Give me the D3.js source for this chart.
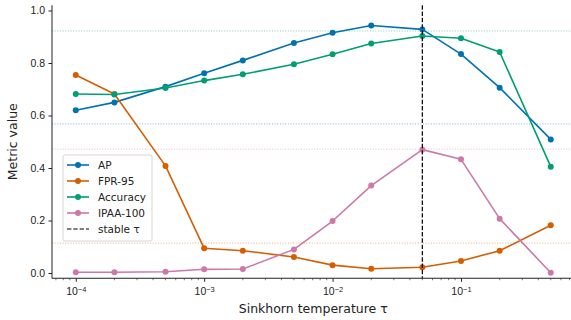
<!DOCTYPE html>
<html>
<head>
<meta charset="utf-8">
<script src="https://cdn.jsdelivr.net/npm/d3@7"></script>
<style>
  body { margin: 0; background: #fff; }
  svg { display: block; font-family: "DejaVu Sans", sans-serif; }
</style>
</head>
<body>
<div id="chart"></div>
<script>
// sinkhorn temperatures swept
var taus = [1e-4, 2e-4, 5e-4, 1e-3, 2e-3, 5e-3, 1e-2, 2e-2, 5e-2, 1e-1, 2e-1, 5e-1];

var apVals   = [0.620, 0.650, 0.710, 0.761, 0.810, 0.876, 0.915, 0.943, 0.928, 0.834, 0.706, 0.509];
var fprVals  = [0.754, 0.682, 0.408, 0.094, 0.085, 0.061, 0.030, 0.016, 0.022, 0.046, 0.085, 0.182];
var accVals  = [0.682, 0.680, 0.705, 0.733, 0.757, 0.795, 0.833, 0.874, 0.903, 0.894, 0.842, 0.405];
var ipaaVals = [0.003, 0.003, 0.005, 0.014, 0.015, 0.090, 0.198, 0.333, 0.470, 0.433, 0.207, 0.001];

var seriesNames = ["AP", "FPR-95", "Accuracy", "IPAA-100"];
var seriesColors = ["#0072B2", "#D55E00", "#009E73", "#CC79A7"];

// dotted reference levels (one per metric)
var refNames  = ["Accuracy", "AP", "IPAA-100", "FPR-95"];
var refValues = [0.922, 0.568, 0.472, 0.114];

var stableTau = 5e-2;

var yTicks = [0.0, 0.2, 0.4, 0.6, 0.8, 1.0];
var xTicks = [1e-4, 1e-3, 1e-2, 1e-1];

var W = 571, H = 320;
var mLeft = 52, mRight = 574.5, mTop = 5.25, mBottom = 278.25;

var svg = d3.select("#chart").append("svg")
  .attr("width", W)
  .attr("height", H);

var x = d3.scaleLog()
  .domain([Math.pow(10, -4.185), Math.pow(10, -0.116)])
  .range([mLeft, mRight]);

var y = d3.scaleLinear()
  .domain([-0.02, 1.02])
  .range([mBottom, mTop]);

var colorOf = d3.scaleOrdinal().domain(seriesNames).range(seriesColors);

// reference dotted lines
svg.selectAll("line.ref")
  .data(refNames)
  .enter().append("line")
  .attr("class", "ref")
  .attr("x1", mLeft)
  .attr("x2", W)
  .attr("y1", function(d, i) { return y(refValues[i]); })
  .attr("y2", function(d, i) { return y(refValues[i]); })
  .attr("stroke", function(d) { return colorOf(d); })
  .attr("stroke-opacity", 0.5)
  .attr("stroke-width", 1)
  .attr("stroke-dasharray", "1,1.65");

var series = [apVals, fprVals, accVals, ipaaVals].map(function(vals, i) {
  return { name: seriesNames[i], values: vals.map(function(v, j) { return { t: taus[j], v: v }; }) };
});

var line = d3.line()
  .x(function(d) { return x(d.t); })
  .y(function(d) { return y(d.v); });

var g = svg.selectAll("g.series")
  .data(series)
  .enter().append("g")
  .attr("class", "series");

g.append("path")
  .attr("d", function(d) { return line(d.values); })
  .attr("fill", "none")
  .attr("stroke", function(d) { return colorOf(d.name); })
  .attr("stroke-width", 1.6)
  .attr("stroke-linejoin", "round");

g.selectAll("circle")
  .data(function(d) { return d.values.map(function(p) { return { p: p, name: d.name }; }); })
  .enter().append("circle")
  .attr("cx", function(d) { return x(d.p.t); })
  .attr("cy", function(d) { return y(d.p.v); })
  .attr("r", 3)
  .attr("fill", function(d) { return colorOf(d.name); });

// stable tau
svg.append("line")
  .attr("x1", x(stableTau))
  .attr("x2", x(stableTau))
  .attr("y1", mTop)
  .attr("y2", mBottom)
  .attr("stroke", "#000")
  .attr("stroke-width", 1.2)
  .attr("stroke-dasharray", "4.4,1.9");

// axes
var yAxis = d3.axisLeft(y)
  .tickValues(yTicks)
  .tickFormat(d3.format(".1f"))
  .tickSize(3.5)
  .tickPadding(3.5);

var yg = svg.append("g")
  .attr("transform", "translate(" + mLeft + ",0)")
  .call(yAxis);
yg.select(".domain").attr("d", "M0," + mTop + "V" + mBottom);

var minor = [];
for (var e = -5; e <= 0; e++) {
  for (var k = 2; k <= 9; k++) {
    var v = k * Math.pow(10, e);
    if (v > x.domain()[0] && v < x.domain()[1]) minor.push(v);
  }
}

var xg = svg.append("g")
  .attr("transform", "translate(0," + mBottom + ")")
  .call(d3.axisBottom(x).tickValues(xTicks).tickSize(3.5).tickPadding(3.5).tickFormat(""));
xg.select(".domain").attr("d", "M" + mLeft + ",0H" + mRight);

xg.selectAll("line.minor")
  .data(minor)
  .enter().append("line")
  .attr("class", "minor")
  .attr("x1", function(d) { return x(d); })
  .attr("x2", function(d) { return x(d); })
  .attr("y1", 0)
  .attr("y2", 2)
  .attr("stroke", "#222")
  .attr("stroke-width", 0.6);

xg.selectAll(".tick").each(function(d) {
  var t = d3.select(this).append("text")
    .attr("y", 17)
    .attr("text-anchor", "middle");
  t.append("tspan").text("10");
  t.append("tspan")
    .attr("dy", -3.5)
    .attr("class", "sup")
    .text("\u2212" + Math.round(-Math.log10(d)));
});

svg.selectAll(".tick text").attr("fill", "#222").style("font-size", "10.5px");
svg.selectAll("tspan.sup").style("font-size", "7.5px");
svg.selectAll(".domain, .tick line").attr("stroke", "#222").attr("stroke-width", 1);

svg.append("text")
  .attr("x", (mLeft + mRight) / 2)
  .attr("y", 313)
  .attr("text-anchor", "middle")
  .style("font-size", "12.5px")
  .attr("fill", "#222")
  .text("Sinkhorn temperature \u03c4");

svg.append("text")
  .attr("transform", "translate(17," + ((mTop + mBottom) / 2) + ") rotate(-90)")
  .attr("text-anchor", "middle")
  .style("font-size", "12.5px")
  .attr("fill", "#222")
  .text("Metric value");

// legend
var legendItems = seriesNames.concat(["stable \u03c4"]);
var lg = svg.append("g").attr("transform", "translate(63,155)");
lg.append("rect")
  .attr("width", 89)
  .attr("height", 86)
  .attr("rx", 2)
  .attr("fill", "#fff")
  .attr("fill-opacity", 0.8)
  .attr("stroke", "#ccc")
  .attr("stroke-width", 0.8);

var li = lg.selectAll("g.item")
  .data(legendItems)
  .enter().append("g")
  .attr("class", "item")
  .attr("transform", function(d, i) { return "translate(0," + (10 + i * 16) + ")"; });

li.append("line")
  .attr("x1", 4).attr("x2", 26)
  .attr("stroke", function(d, i) { return i < 4 ? colorOf(d) : "#000"; })
  .attr("stroke-width", function(d, i) { return i < 4 ? 1.6 : 1.2; })
  .attr("stroke-dasharray", function(d, i) { return i < 4 ? null : "4.4,1.9"; });

li.filter(function(d, i) { return i < 4; }).append("circle")
  .attr("cx", 15)
  .attr("r", 3)
  .attr("fill", function(d) { return colorOf(d); });

li.append("text")
  .attr("x", 35)
  .attr("dy", "0.35em")
  .style("font-size", "10.5px")
  .attr("fill", "#222")
  .text(function(d) { return d; });
</script>
</body>
</html>
